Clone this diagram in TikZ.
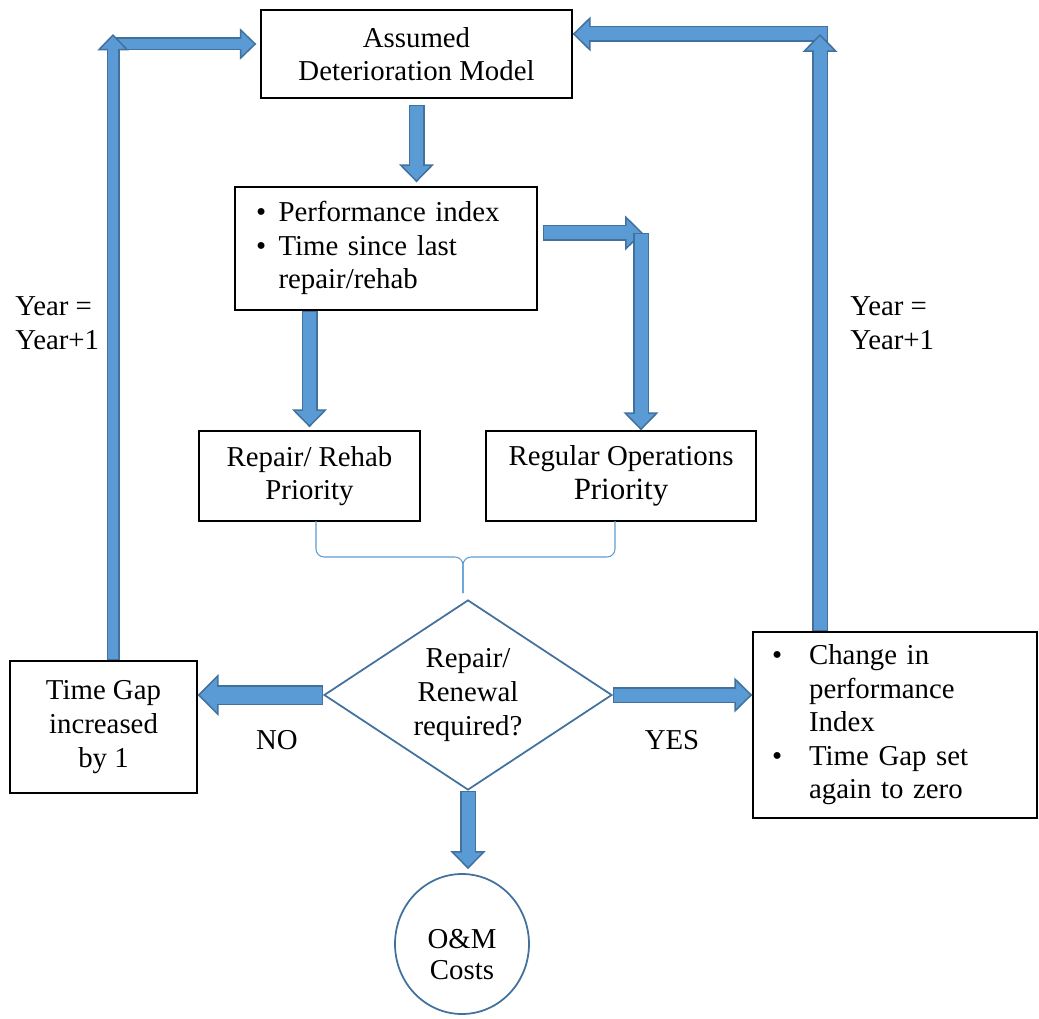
\documentclass[tikz,border=0pt]{standalone}
\usepackage{fontspec}
\setmainfont{Liberation Serif}
\usetikzlibrary{arrows.meta,calc,shapes.geometric}
\definecolor{arrowfill}{RGB}{91,155,213}
\definecolor{arrowedge}{RGB}{65,113,156}
\tikzset{
    box/.style={draw, line width=0.8pt, align=center, inner sep=0pt, font=\fontsize{16.4}{19.1}\selectfont},
    bulletbox/.style={draw, line width=0.8pt, align=left, inner ysep=0pt, font=\fontsize{16.4}{19.1}\selectfont},
    decisionbox/.style={diamond, draw=arrowedge, line width=1pt, aspect=1.5, inner sep=0pt, align=center, minimum width=57.6mm, minimum height=38mm, font=\fontsize{16.4}{19.1}\selectfont},
    endcircle/.style={ellipse, draw=arrowedge, line width=1pt, inner sep=0pt, minimum width=26.8mm, minimum height=28mm},
    looplabel/.style={align=left, inner sep=0pt, font=\fontsize{16.4}{19.1}\selectfont},
    circletext/.style={align=center, inner sep=0pt, font=\fontsize{16.4}{17.5}\selectfont},
    blockarrow/.style={line width=3.2mm, draw=arrowedge, -{Triangle[length=3.6mm, width=7mm, line width=0.3mm, fill=arrowfill]},
        postaction={draw=arrowfill, line width=2.6mm, -, shorten <=0.3mm, shorten >=3mm}},
    narrowblock/.style={line width=2.6mm, draw=arrowedge, -{Triangle[length=3.3mm, width=6.3mm, line width=0.3mm, fill=arrowfill]},
        postaction={draw=arrowfill, line width=2mm, -, shorten <=0.3mm, shorten >=2.7mm}},
    wideblock/.style={line width=4mm, draw=arrowedge, -{Triangle[length=4.2mm, width=8.4mm, line width=0.3mm, fill=arrowfill]},
        postaction={draw=arrowfill, line width=3.4mm, -, shorten <=0.3mm, shorten >=3.6mm}},
    bracket/.style={draw=arrowfill, line width=0.6pt, rounded corners=1.6mm}
}

\begin{document}
\begin{tikzpicture}[x=0.2mm, y=-0.2mm]
    \useasboundingbox (0,0) rectangle (1039,1019);

    \node[box, minimum width=62.2mm, minimum height=17.6mm] (model) at (416.5,54) {Assumed\\Deterioration Model};
    \node[bulletbox, text width=52mm, inner xsep=4.2mm, minimum height=24.6mm] (perf) at (386,248.5)
        {\begin{tabular}{@{}l@{\hspace{2.5mm}}l@{}}
            \textbullet & Performance index\\
            \textbullet & Time since last\\
                        & repair/rehab
        \end{tabular}};
    \node[box, minimum width=44.2mm, minimum height=18mm] (rehab) at (309.5,476) {Repair/ Rehab\\Priority};
    \node[box, minimum width=54mm, minimum height=18mm] (ops) at (621,476) {Regular Operations\\{\fontsize{17.6}{20}\selectfont Priority}};
    \node[decisionbox] (decide) at (468,695) {Repair/\\Renewal\\required?};
    \node[box, minimum width=37.4mm, minimum height=26.4mm] (timegap) at (103.5,727) {Time Gap\\increased\\by 1};
    \node[bulletbox, text width=49.2mm, inner xsep=3.8mm, minimum height=37.2mm] (change) at (895,725)
        {\begin{tabular}{@{}l@{\hspace{5.4mm}}l@{}}
            \textbullet & Change in\\
                        & performance\\
                        & Index\\
            \textbullet & Time Gap set\\
                        & again to zero
        \end{tabular}};
    \node[endcircle, label={[circletext, yshift=-2.1mm]center:O\&M\\Costs}] (costs) at (462,944) {};

    \node[looplabel, anchor=west] (yearleft) at (15,323) {Year =\\Year+1};
    \node[looplabel, anchor=west] (yearright) at (850,323) {Year =\\Year+1};
    \node[looplabel] (nolabel) at (277,740) {NO};
    \node[looplabel] (yeslabel) at (672,740) {YES};

    \coordinate (pturn) at (641,233);
    \coordinate (lturn) at (113,44);
    \coordinate (rturn) at (820,34);

    \draw[blockarrow] ($(model.south)+(0,6)$) -- ($(model.south |- perf.north)+(0,-4)$);
    \draw[blockarrow] (rehab.north |- perf.south) -- ($(rehab.north)+(0,-3)$);
    \draw[blockarrow] ($(perf.east |- pturn)+(5,0)$) -- ($(pturn)+(2,0)$);
    \draw[blockarrow] (pturn) -- (pturn |- ops.north);

    % brace joining the two priorities
    \draw[bracket] (316,521) |- (463,557) -- (463,593);
    \draw[bracket] (615,521) |- (463,557) -- (463,593);

    \draw[wideblock] (decide.west) -- (decide.west -| timegap.east);
    \draw[blockarrow] (decide.east) -- (decide.east -| change.west);
    \draw[blockarrow] (decide.south) -- ($(decide.south |- costs.north)+(0,-4)$);

    % yearly loops back to the model
    \draw[narrowblock] (lturn) -- ($(model.west |- lturn)+(-4,0)$);
    \draw[narrowblock] (timegap.north -| lturn) -- ($(lturn)+(0,-10)$);
    \draw[blockarrow] ($(rturn)+(8,0)$) -- (model.east |- rturn);
    \draw[blockarrow] (change.north -| rturn) -- (rturn);
\end{tikzpicture}
\end{document}
